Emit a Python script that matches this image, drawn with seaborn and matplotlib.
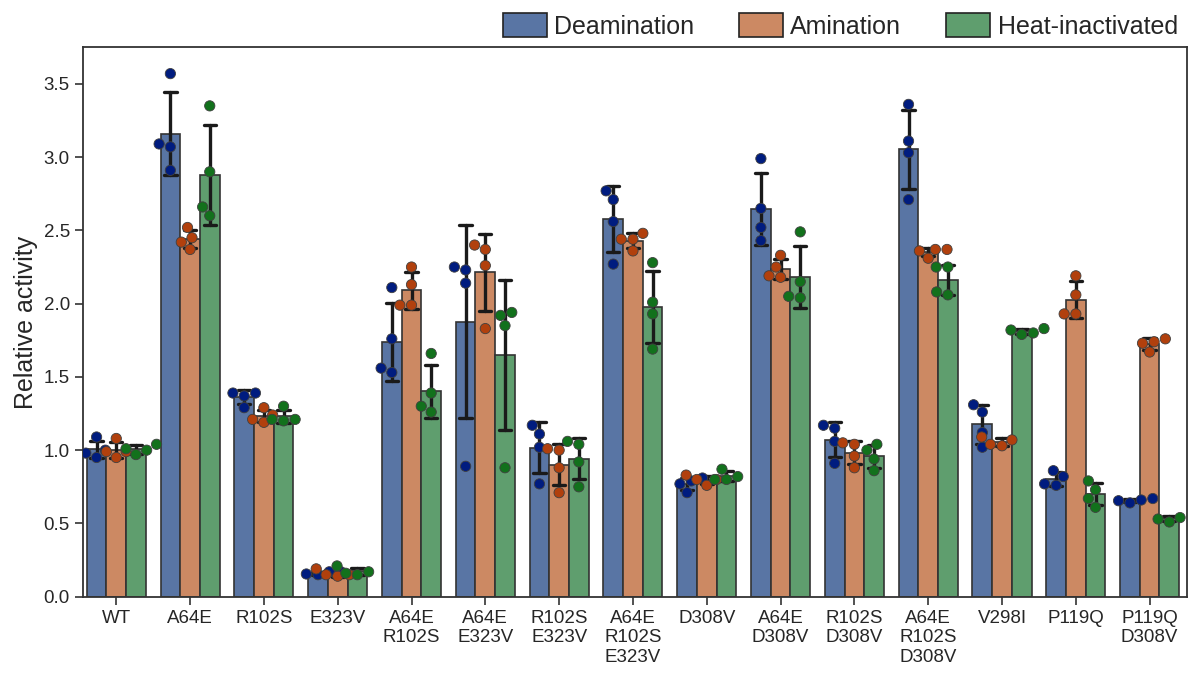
import numpy as np
import pandas as pd
import matplotlib
matplotlib.use("Agg")
import matplotlib.pyplot as plt
import matplotlib.patches as mpatches
import seaborn as sns

variants = ["WT", "A64E", "R102S", "E323V", "A64E\nR102S", "A64E\nE323V",
            "R102S\nE323V", "A64E\nR102S\nE323V", "D308V", "A64E\nD308V",
            "R102S\nD308V", "A64E\nR102S\nD308V", "V298I", "P119Q", "P119Q\nD308V"]
conditions = ["Deamination", "Amination", "Heat-inactivated"]

# replicate measurements (4 per variant and condition)
deamination = [
    [0.98, 1.09, 0.95, 1.00],
    [3.57, 3.09, 3.07, 2.91],
    [1.39, 1.37, 1.39, 1.29],
    [0.17, 0.15, 0.155, 0.17],
    [2.11, 1.76, 1.56, 1.53],
    [2.25, 2.23, 2.14, 0.89],
    [1.17, 1.11, 1.02, 0.77],
    [2.77, 2.71, 2.56, 2.27],
    [0.81, 0.77, 0.71, 0.79],
    [2.99, 2.65, 2.52, 2.43],
    [1.17, 1.15, 1.06, 0.91],
    [3.36, 3.11, 3.03, 2.71],
    [1.31, 1.26, 1.12, 1.02],
    [0.86, 0.82, 0.77, 0.76],
    [0.67, 0.64, 0.655, 0.66],
]
amination = [
    [0.99, 1.08, 0.95, 0.99],
    [2.42, 2.52, 2.45, 2.37],
    [1.21, 1.29, 1.24, 1.19],
    [0.19, 0.15, 0.14, 0.15],
    [2.25, 2.13, 1.99, 1.99],
    [2.40, 2.37, 2.26, 1.83],
    [1.01, 1.00, 0.88, 0.71],
    [2.44, 2.44, 2.48, 2.36],
    [0.80, 0.76, 0.83, 0.80],
    [2.33, 2.19, 2.18, 2.25],
    [1.05, 1.04, 0.96, 0.88],
    [2.36, 2.31, 2.37, 2.37],
    [1.09, 1.04, 1.03, 1.07],
    [2.19, 2.06, 1.93, 1.93],
    [1.74, 1.73, 1.76, 1.67],
]
heat_inactivated = [
    [1.00, 1.04, 0.97, 1.01],
    [3.35, 2.90, 2.66, 2.60],
    [1.21, 1.30, 1.20, 1.21],
    [0.21, 0.16, 0.15, 0.17],
    [1.66, 1.39, 1.30, 1.26],
    [1.94, 1.92, 1.85, 0.88],
    [1.06, 1.04, 0.92, 0.75],
    [2.28, 2.01, 1.93, 1.69],
    [0.80, 0.87, 0.80, 0.82],
    [2.49, 2.15, 2.05, 2.04],
    [1.04, 1.00, 0.94, 0.86],
    [2.25, 2.25, 2.08, 2.06],
    [1.83, 1.80, 1.79, 1.82],
    [0.79, 0.73, 0.67, 0.61],
    [0.555, 0.54, 0.51, 0.53],
]

rows = []
for cond, series in zip(conditions, [deamination, amination, heat_inactivated]):
    for var, reps in zip(variants, series):
        for v in reps:
            rows.append({"Variant": var, "Condition": cond, "Activity": v})
df = pd.DataFrame(rows)

sns.set_theme(style="ticks")
plt.rcParams["font.family"] = ["Liberation Sans", "DejaVu Sans"]

fig = plt.figure(figsize=(11.93, 6.75), dpi=100)
ax = fig.add_axes([0.0696, 0.116, 0.925, 0.814])

bar_pal = sns.color_palette("deep", 3)
dot_pal = sns.color_palette("dark", 3)

sns.barplot(data=df, x="Variant", y="Activity", hue="Condition", order=variants,
            hue_order=conditions, palette=bar_pal, errorbar="sd", capsize=0.5,
            err_kws={"color": "#1a1a1a", "linewidth": 2.4},
            edgecolor="#333333", linewidth=1.2, legend=False, ax=ax)
sns.swarmplot(data=df, x="Variant", y="Activity", hue="Condition", order=variants,
              hue_order=conditions, palette=dot_pal, dodge=True, size=7.4,
              edgecolor="#404040", linewidth=0.6, legend=False, ax=ax)

ax.set_xlim(-0.45, 14.5)
ax.set_ylim(0, 3.75)
ax.set_yticks(np.arange(0, 3.51, 0.5))
ax.set_xlabel("")
ax.set_ylabel("Relative activity", fontsize=18)
ax.tick_params(axis="both", labelsize=13.5, length=6, width=1.2, color="#333333")
for s in ax.spines.values():
    s.set_color("#333333")
    s.set_linewidth(1.3)

desat = [sns.desaturate(c, 0.75) for c in bar_pal]
handles = [mpatches.Patch(facecolor=c, edgecolor="#222222", linewidth=1.2, label=l)
           for c, l in zip(desat, conditions)]
ax.legend(handles=handles, loc="lower right", bbox_to_anchor=(1.0, 1.0), ncol=3,
          frameon=False, fontsize=18, handlelength=1.75, handleheight=1.05,
          handletextpad=0.3, columnspacing=1.8, borderaxespad=0.05, borderpad=0.3)

fig.savefig("out.png", dpi=100)
